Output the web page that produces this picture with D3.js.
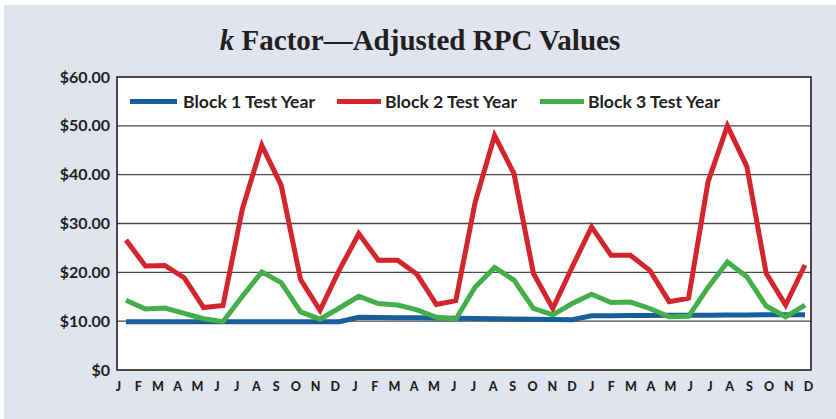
<!DOCTYPE html>
<html>
<head>
<meta charset="utf-8">
<script src="https://cdn.jsdelivr.net/npm/d3@7"></script>
<style>
  body { margin: 0; background: #fff; }
  svg { display: block; }
</style>
</head>
<body>
<svg width="836" height="419"></svg>
<script>
// month letters along the bottom, three test years
const monthLabels = ["J","F","M","A","M","J","J","A","S","O","N","D",
                     "J","F","M","A","M","J","J","A","S","O","N","D",
                     "J","F","M","A","M","J","J","A","S","O","N","D"];

const block1 = [9.9, 9.9, 9.9, 9.9, 9.9, 9.9, 9.9, 9.9, 9.9, 9.9, 9.9, 9.9,
                10.8, 10.75, 10.7, 10.7, 10.65, 10.6, 10.55, 10.5, 10.45, 10.4, 10.35, 10.3,
                11.1, 11.1, 11.15, 11.15, 11.2, 11.2, 11.2, 11.25, 11.25, 11.3, 11.3, 11.3];
const block2 = [26.6, 21.3, 21.4, 18.9, 12.8, 13.2, 33.0, 46.0, 37.8, 18.5, 12.2, 20.5,
                27.9, 22.5, 22.5, 19.6, 13.4, 14.2, 34.4, 48.0, 40.2, 19.8, 12.6, 21.1,
                29.3, 23.5, 23.5, 20.4, 14.0, 14.7, 38.5, 50.0, 41.7, 19.8, 13.3, 21.5];
const block3 = [14.3, 12.5, 12.7, 11.6, 10.5, 9.9, 15.1, 20.1, 17.9, 11.9, 10.4, 12.7,
                15.1, 13.6, 13.3, 12.3, 10.8, 10.4, 17.0, 21.0, 18.4, 12.6, 11.3, 13.6,
                15.5, 13.8, 13.9, 12.6, 10.9, 11.0, 16.9, 22.1, 19.1, 13.1, 10.9, 13.3];

const seriesNames = ["Block 1 Test Year", "Block 2 Test Year", "Block 3 Test Year"];
const seriesColors = ["#185e9b", "#d3252b", "#43ae4a"];
const yTicks = [0, 10, 20, 30, 40, 50, 60];

const series = [block1, block2, block3];

const svg = d3.select("svg");
const plot = {left: 117, right: 811, top: 77, bottom: 370};

svg.append("rect")
    .attr("x", 4).attr("y", 5)
    .attr("width", 832).attr("height", 414)
    .attr("fill", "#dfe4ef");

const x = d3.scaleLinear().domain([0, 35]).range([126, 805]);
const xLab = d3.scaleLinear().domain([0, 35]).range([118, 808]);
const y = d3.scaleLinear().domain([0, 60]).range([plot.bottom, plot.top]);

// plot area
svg.append("rect")
    .attr("x", plot.left).attr("y", plot.top)
    .attr("width", plot.right - plot.left).attr("height", plot.bottom - plot.top)
    .attr("fill", "#fff");

// gridlines
svg.append("g")
  .selectAll("line")
  .data(yTicks.slice(1, -1))
  .join("line")
    .attr("x1", plot.left).attr("x2", plot.right)
    .attr("y1", d => y(d)).attr("y2", d => y(d))
    .attr("stroke", "#4a4a4a")
    .attr("stroke-width", 1.3);

svg.append("rect")
    .attr("x", plot.left).attr("y", plot.top)
    .attr("width", plot.right - plot.left).attr("height", plot.bottom - plot.top)
    .attr("fill", "none")
    .attr("stroke", "#231f20")
    .attr("stroke-width", 1.6);

// y axis labels
const yAxis = g => g
    .attr("transform", `translate(${plot.left},0)`)
    .call(d3.axisLeft(y).tickValues(yTicks).tickSize(0).tickPadding(7)
        .tickFormat(d => d === 0 ? "$0" : "$" + d3.format(".2f")(d)))
    .call(g => g.select(".domain").remove())
    .call(g => g.selectAll("text")
        .attr("font-family", "Lato, sans-serif")
        .attr("font-weight", "bold")
        .attr("font-size", 16)
        .attr("fill", "#231f20"));

svg.append("g").call(yAxis);

// x axis month letters
const xAxis = g => g
    .attr("transform", `translate(0,${plot.bottom})`)
    .call(d3.axisBottom(xLab).tickValues(d3.range(36)).tickSize(0).tickPadding(12)
        .tickFormat(i => monthLabels[i]))
    .call(g => g.select(".domain").remove())
    .call(g => g.selectAll("text")
        .attr("font-family", "Lato, sans-serif")
        .attr("font-weight", 900)
        .attr("font-size", 12.5)
        .attr("fill", "#231f20"));

svg.append("g").call(xAxis);

// lines
const line = d3.line()
    .x((d, i) => x(i))
    .y(d => y(d));

svg.append("g")
  .selectAll("path")
  .data(series)
  .join("path")
    .attr("d", line)
    .attr("fill", "none")
    .attr("stroke", (d, i) => seriesColors[i])
    .attr("stroke-width", 5)
    .attr("stroke-linejoin", "miter");

// legend
const legendX = [130, 337, 540];
const legend = svg.append("g")
  .selectAll("g")
  .data(seriesNames)
  .join("g")
    .attr("transform", (d, i) => `translate(${legendX[i]},101.5)`);

legend.append("line")
    .attr("x1", 0).attr("x2", (d, i) => i === 0 ? 47 : 44)
    .attr("stroke", (d, i) => seriesColors[i])
    .attr("stroke-width", 5);

legend.append("text")
    .attr("x", (d, i) => i === 0 ? 53 : 48)
    .attr("dy", "0.36em")
    .attr("font-family", "Lato, sans-serif")
    .attr("font-weight", "bold")
    .attr("font-size", 17.6)
    .attr("fill", "#231f20")
    .text(d => d);

// title
const title = svg.append("text")
    .attr("x", 420).attr("y", 50)
    .attr("text-anchor", "middle")
    .attr("font-family", "'Liberation Serif', serif")
    .attr("font-weight", "bold")
    .attr("font-size", 29)
    .attr("fill", "#231f20");
title.append("tspan").attr("font-style", "italic").text("k");
title.append("tspan").text(" Factor\u2014Adjusted RPC Values");
</script>
</body>
</html>
